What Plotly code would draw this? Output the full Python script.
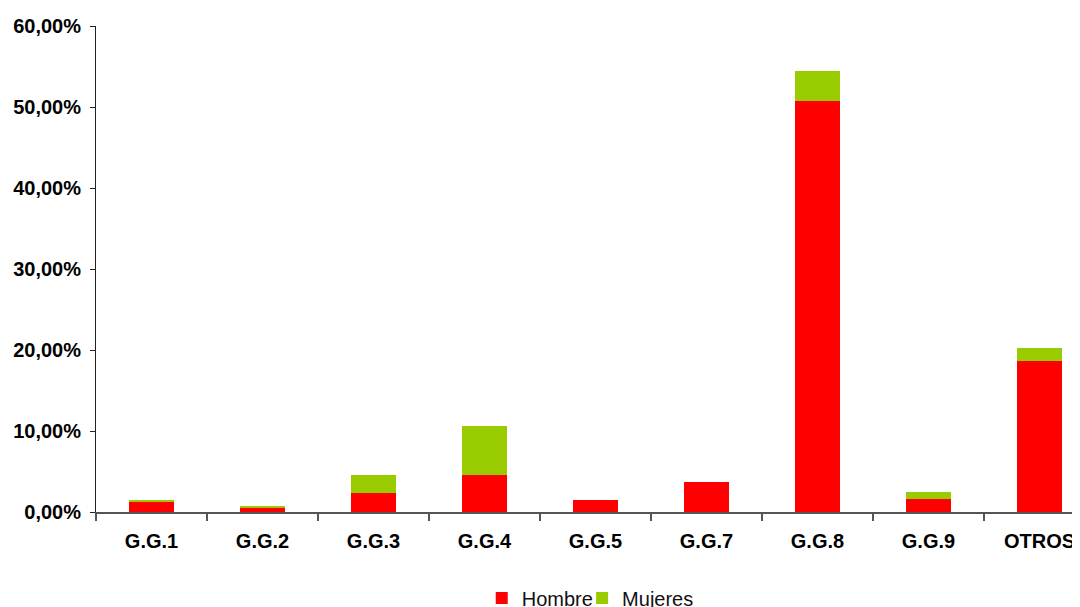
import plotly.graph_objects as go

categories = ["G.G.1", "G.G.2", "G.G.3", "G.G.4", "G.G.5", "G.G.7", "G.G.8", "G.G.9", "OTROS"]
hombre = [0.0127, 0.0053, 0.0238, 0.0460, 0.0145, 0.0368, 0.5078, 0.0155, 0.1868]
mujeres = [0.0025, 0.0024, 0.0222, 0.0605, 0.0, 0.0, 0.0370, 0.0088, 0.0160]

fig = go.Figure()
fig.add_trace(go.Bar(x=categories, y=hombre, name="Hombre", marker_color="#FF0000",
                     marker_line_width=0, width=0.405, legend="legend"))
fig.add_trace(go.Bar(x=categories, y=mujeres, name="Mujeres", marker_color="#99CC00",
                     marker_line_width=0, width=0.405, legend="legend2"))

leg_common = dict(orientation="h", y=-0.177, yanchor="middle", xanchor="left",
                  font=dict(size=20, color="#111111"), bgcolor="rgba(0,0,0,0)")

fig.update_layout(
    barmode="stack",
    width=1072, height=599,
    margin=dict(l=88, r=0, t=18, b=95, autoexpand=False),
    paper_bgcolor="white", plot_bgcolor="white",
    separators=",.",
    font=dict(family="Liberation Sans, Arial, sans-serif", color="#000000"),
    legend=dict(x=0.392, **leg_common),
    legend2=dict(x=0.494, **leg_common),
    showlegend=True,
)
fig.update_xaxes(
    type="category", range=[-0.5, 8.365], automargin=False,
    showline=True, linecolor="#555555", linewidth=1.5,
    ticks="outside", ticklen=7, tickcolor="#555555", tickwidth=1.5,
    tickson="boundaries", showgrid=False, zeroline=False,
    tickfont=dict(size=20, family="Liberation Sans, Arial, sans-serif", weight="bold"),
    ticklabelstandoff=10,
)
fig.update_yaxes(
    range=[0, 0.6], dtick=0.1, tickformat=".2%", automargin=False,
    showline=True, linecolor="#222222", linewidth=1,
    ticks="outside", ticklen=5, tickcolor="#222222",
    showgrid=False, zeroline=False,
    tickfont=dict(size=20, family="Liberation Sans, Arial, sans-serif", weight="bold"),
    ticklabelstandoff=5,
)

fig.write_html("out.html")
